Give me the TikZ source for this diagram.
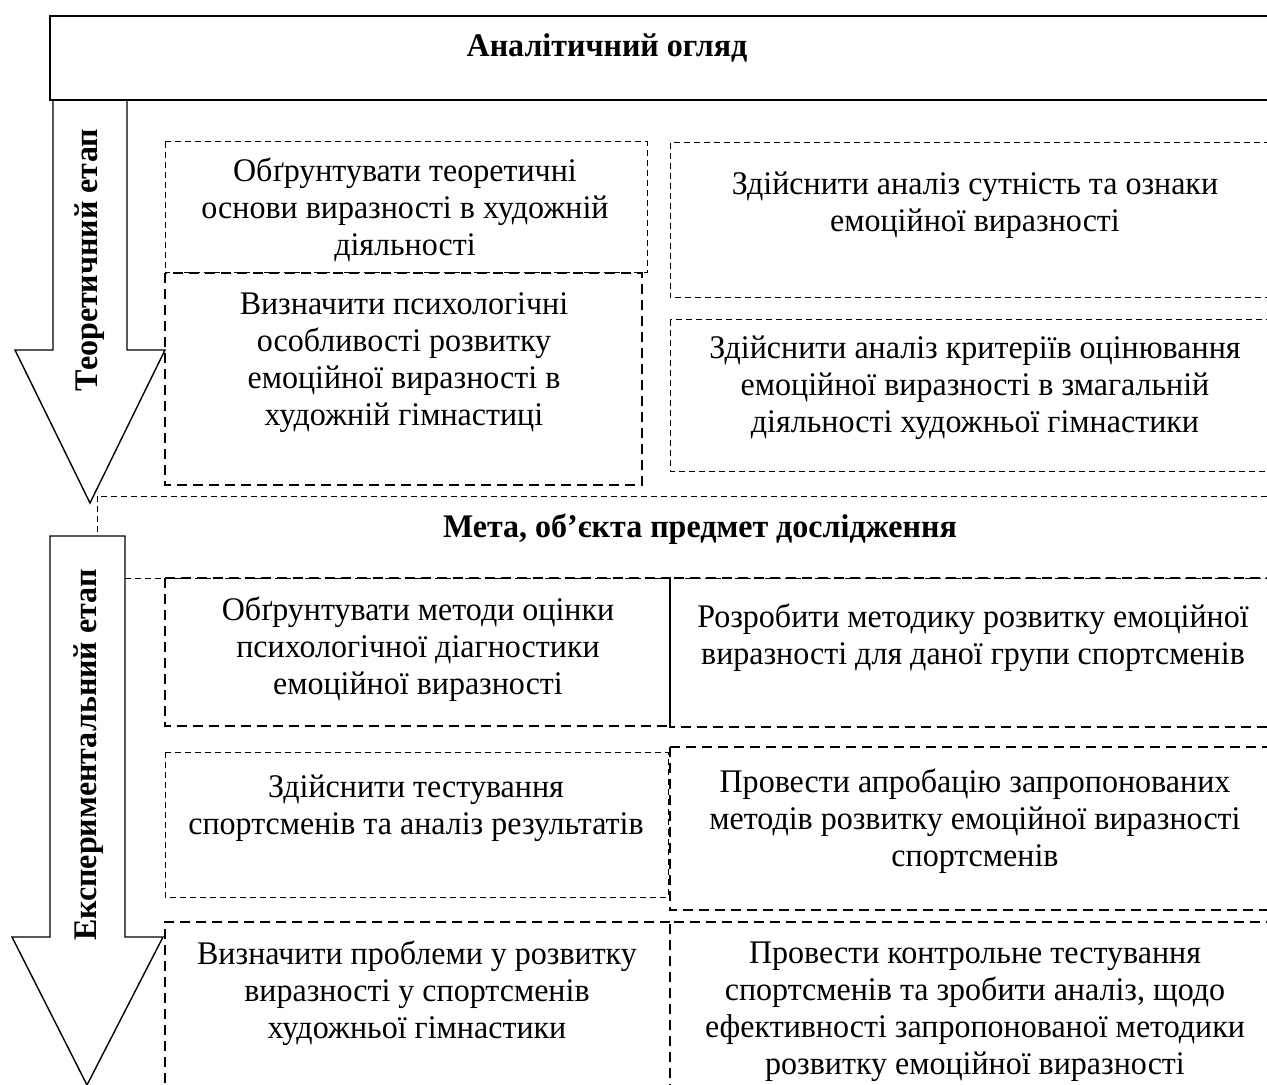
\documentclass[tikz,border=0pt]{standalone}
\usepackage{fontspec}
\setmainfont[FakeStretch=0.97]{Liberation Serif}

\begin{document}
\begin{tikzpicture}[x=0.5pt,y=-0.5pt,
	txt/.style={align=center,inner sep=0pt,font=\fontsize{16.5}{18.5}\selectfont},
	ttl/.style={inner sep=0pt,font=\fontsize{16.5}{18.5}\selectfont\bfseries},
	thindash/.style={line width=0.5pt,dash pattern=on 3pt off 2pt},
	thickdash/.style={line width=1.2pt,dash pattern=on 5pt off 3pt},
	arrowline/.style={line width=0.7pt,line join=miter}]
	\useasboundingbox (0,0) rectangle (1267,1085);
	\clip (0,0) rectangle (1267,1085);

	% top box
	\draw[line width=1pt] (50,16) rectangle (1290,100);
	\node[ttl] (analiz) at (607,48) {Аналітичний огляд};

	% stage arrows
	\coordinate (T1) at (53,100);
	\coordinate (T2) at (127,100);
	\coordinate (Ttip) at (90,503);
	\draw[arrowline] (T1)--(53,350)--(15,350)--(Ttip)--(165,350)--(127,350)--(T2);
	\node[ttl,rotate=90] (teor) at (90,260) {Теоретичний етап};

	\coordinate (E1) at (50,536);
	\coordinate (E2) at (125,536);
	\coordinate (Etip) at (87,1085);
	\draw[arrowline] (E1)--(E2)--(125,937)--(163,937)--(Etip)--(12,937)--(50,937)--cycle;
	\node[ttl,rotate=90] (eksp) at (89,755) {Експериментальний етап};

	% theoretical stage
	\draw[thindash] (165,142) rectangle (647,273);
	\node[txt] (obgr) at (405,210) {Обґрунтувати теоретичні\\основи виразності в художній\\діяльності};
	\draw[thickdash] (165,273) rectangle (642,485);
	\node[txt] (psykh) at (404,363) {Визначити психологічні\\особливості розвитку\\емоційної виразності в\\художній гімнастиці};
	\draw[thindash] (670,143) rectangle (1280,298);
	\node[txt] (sutn) at (975,205) {Здійснити аналіз сутність та ознаки\\емоційної виразності};
	\draw[thindash] (670,320) rectangle (1280,471);
	\node[txt] (kryt) at (975,388) {Здійснити аналіз критеріїв оцінювання\\емоційної виразності в змагальній\\діяльності художньої гімнастики};

	% goal
	\draw[thindash] (97,532)--(97,496)--(1290,496);
	\draw[thindash] (125,578)--(1290,578);
	\node[ttl] (meta) at (700,529) {Мета, об’єкта предмет дослідження};

	% experimental stage
	\draw[thickdash] (165,578) rectangle (670,726);
	\node[txt] (metody) at (418,649) {Обґрунтувати методи оцінки\\психологічної діагностики\\емоційної виразності};
	\draw[thickdash] (670,578) rectangle (1280,727);
	\draw[line width=1pt] (670,578)--(670,727);
	\node[txt] (metodyka) at (973,638) {Розробити методику розвитку емоційної\\виразності для даної групи спортсменів};

	\draw[thindash] (165,752) rectangle (668,897);
	\node[txt] (test) at (416,808) {Здійснити тестування\\спортсменів та аналіз результатів};
	\draw[thickdash] (670,747) rectangle (1280,910);
	\node[txt] (aprob) at (975,821) {Провести апробацію запропонованих\\методів розвитку емоційної виразності\\спортсменів};

	\draw[thickdash] (670,922)--(165,922)--(165,1110);
	\node[txt] (problemy) at (417,993) {Визначити проблеми у розвитку\\виразності у спортсменів\\художньої гімнастики};
	\draw[thickdash] (670,1110)--(670,922)--(1290,922);
	\node[txt] (kontrol) at (975,1012) {Провести контрольне тестування\\спортсменів та зробити аналіз, щодо\\ефективності запропонованої методики\\розвитку емоційної виразності};
\end{tikzpicture}
\end{document}
